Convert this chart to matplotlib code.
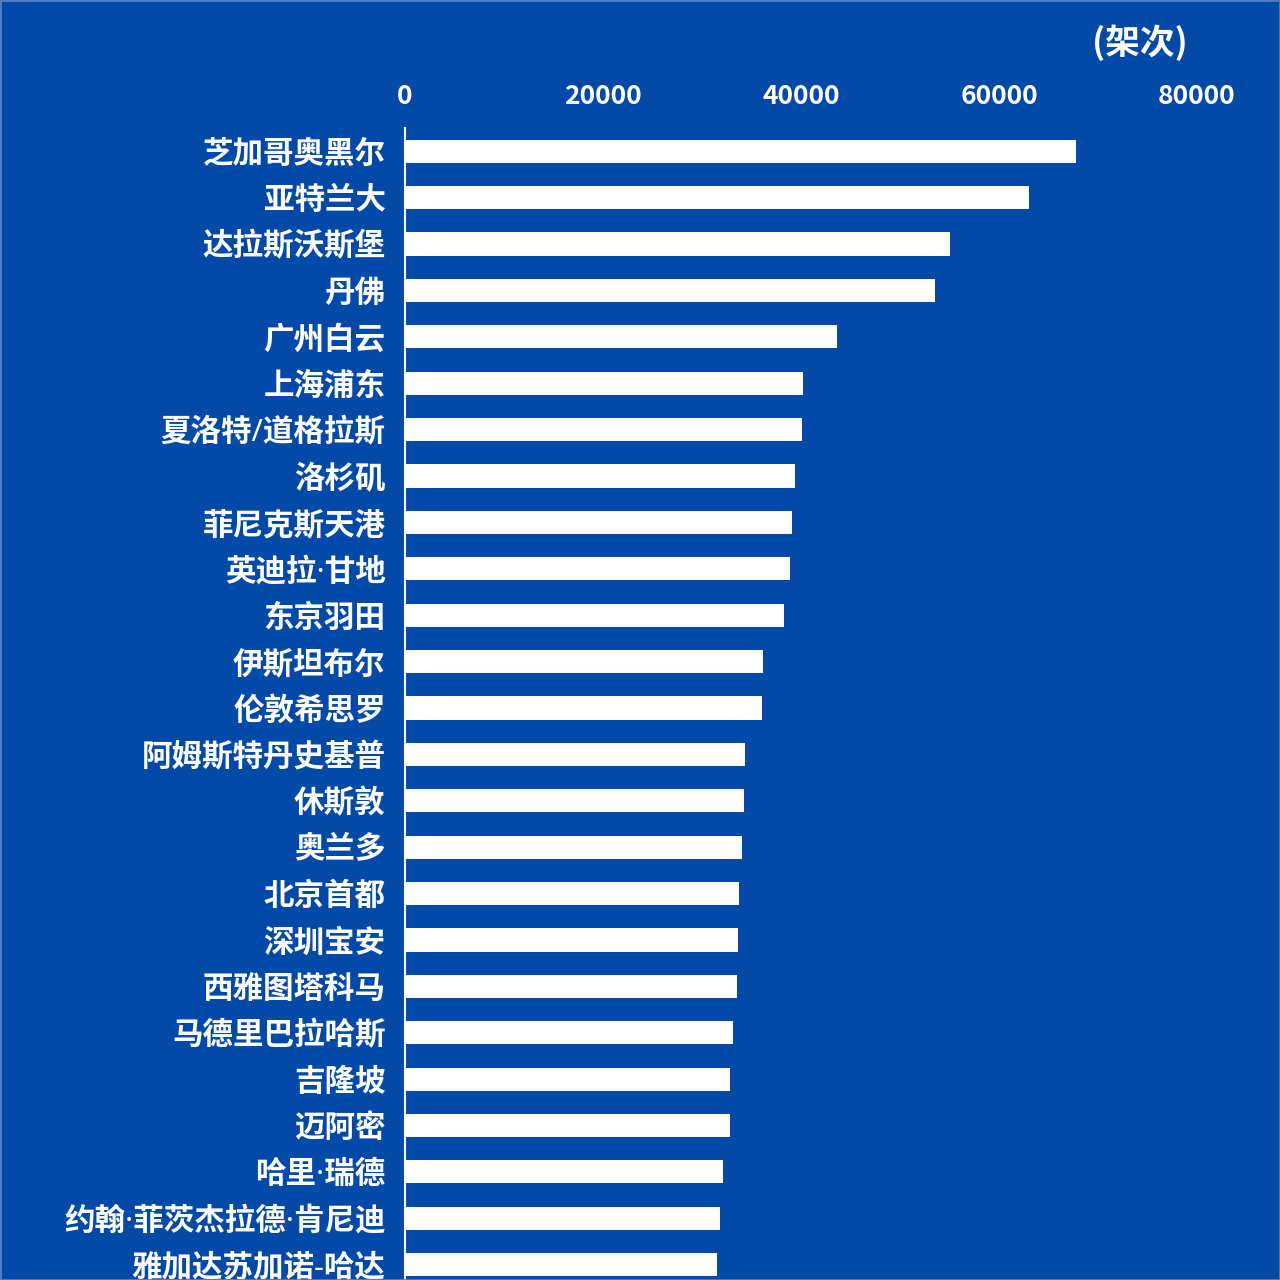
import matplotlib
matplotlib.use("Agg")
import matplotlib.pyplot as plt
from matplotlib.patches import Rectangle

plt.rcParams['font.family'] = ['Noto Sans CJK SC', 'DejaVu Sans']

airports = ["芝加哥奥黑尔", "亚特兰大", "达拉斯沃斯堡", "丹佛", "广州白云", "上海浦东",
            "夏洛特/道格拉斯", "洛杉矶", "菲尼克斯天港", "英迪拉·甘地", "东京羽田",
            "伊斯坦布尔", "伦敦希思罗", "阿姆斯特丹史基普", "休斯敦", "奥兰多",
            "北京首都", "深圳宝安", "西雅图塔科马", "马德里巴拉哈斯", "吉隆坡",
            "迈阿密", "哈里·瑞德", "约翰·菲茨杰拉德·肯尼迪", "雅加达苏加诺-哈达"]
flights = [67780, 63030, 55050, 53540, 43640, 40170, 40100, 39390, 39120, 38890,
           38250, 36130, 36060, 34340, 34270, 34040, 33710, 33640, 33540, 33160,
           32860, 32790, 32170, 31860, 31490]
xticks = [0, 20000, 40000, 60000, 80000]
unit_label = "(架次)"

bg = '#034AA8'
fig = plt.figure(figsize=(12.8, 12.8), dpi=100, facecolor=bg)
ax = fig.add_axes([405/1280, 0.0, (1197-405)/1280, (1280-128)/1280])
ax.set_facecolor(bg)

ypos = list(range(len(airports)))
ax.barh(ypos, flights, height=0.5, color='white')
ax.set_xlim(0, 80000)
ax.set_ylim(24.33, -0.5)

ax.set_yticks(ypos)
ax.set_yticklabels(airports, fontsize=22, fontweight='bold', color='white',
                   family=['Noto Sans', 'Noto Sans CJK SC'])
ax.set_xticks(xticks)
ax.set_xticklabels([str(t) for t in xticks], fontsize=19, fontweight='bold', color='white')
ax.xaxis.tick_top()
ax.tick_params(axis='x', length=0, pad=13)
ax.tick_params(axis='y', length=0, pad=14)

for s in ['top', 'right', 'bottom']:
    ax.spines[s].set_visible(False)
ax.spines['left'].set_color('white')
ax.spines['left'].set_linewidth(1.5)

fig.text(1140/1280, 1 - 43/1280, unit_label, fontsize=25, fontweight='bold',
         color='white', ha='center', va='center')

fig.patches.append(Rectangle((0, 0), 1, 1, transform=fig.transFigure, fill=False,
                             edgecolor='#4f7fc4', linewidth=2))

fig.savefig('out.png', dpi=100, facecolor=bg)
